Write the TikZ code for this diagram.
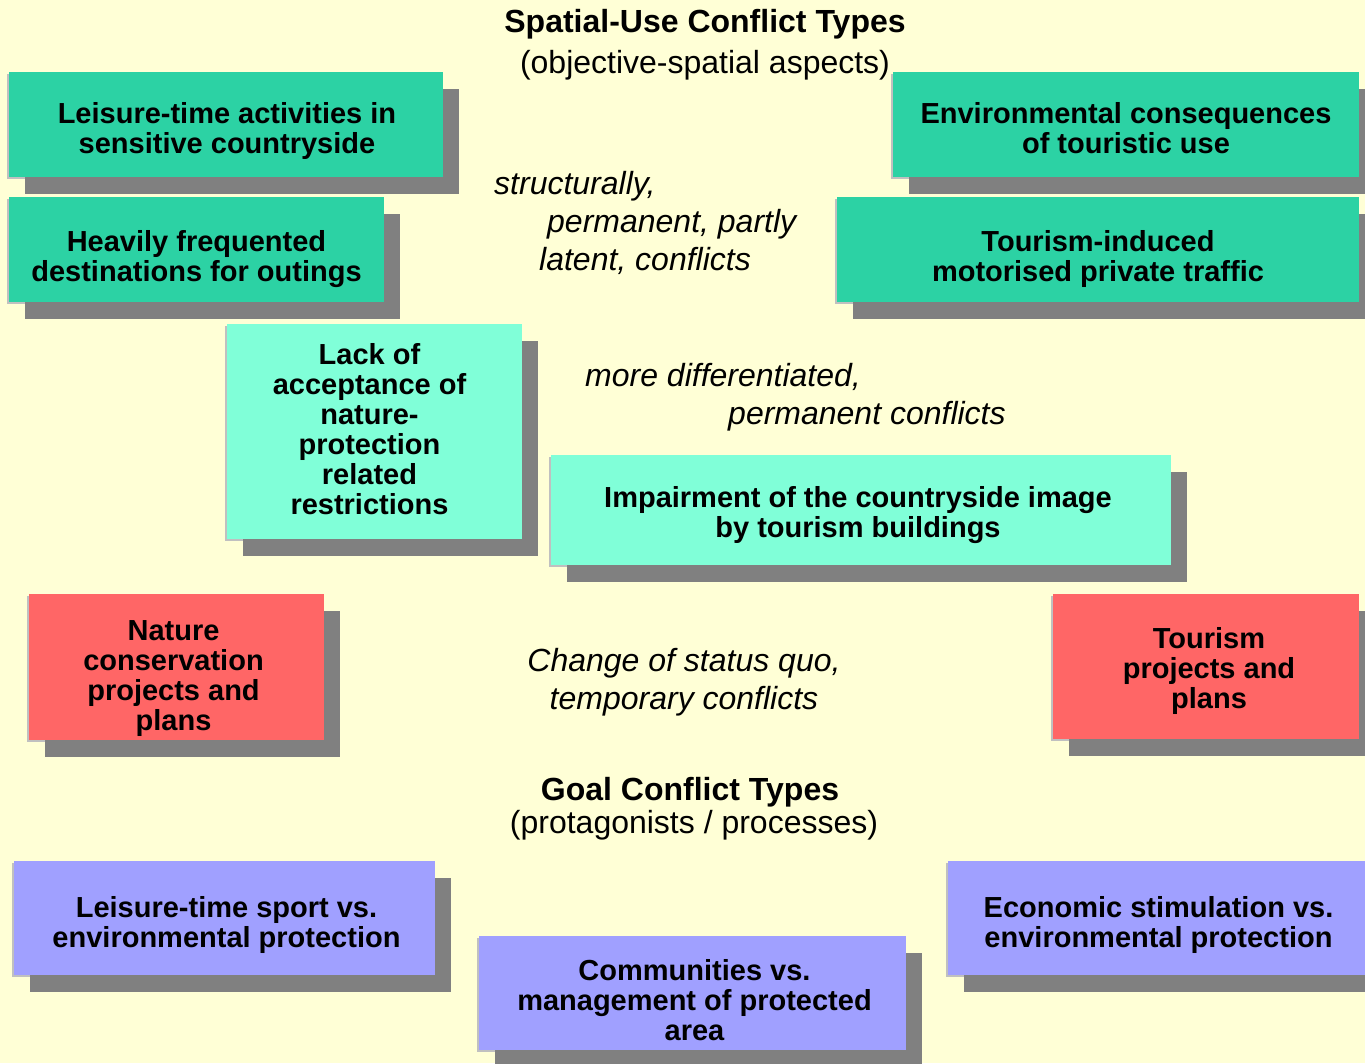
\documentclass[tikz,border=0pt]{standalone}
\usepackage{fontspec}
\setmainfont{Liberation Sans}
\usetikzlibrary{shadows}
\definecolor{bgyellow}{RGB}{255,255,214}
\definecolor{spatialgreen}{RGB}{44,210,164}
\definecolor{mintgreen}{RGB}{128,255,216}
\definecolor{projectred}{RGB}{255,102,102}
\definecolor{goalblue}{RGB}{160,160,255}
\definecolor{shadowgray}{RGB}{128,128,128}
\definecolor{edgegray}{RGB}{192,192,192}

\begin{document}
\begin{tikzpicture}[x=1pt, y=-1pt]
	\tikzset{
		conflict/.style={rectangle, inner sep=0pt,
			general shadow={shadow xshift=-2pt, shadow yshift=-2pt, fill=edgegray},
			general shadow={shadow xshift=16pt, shadow yshift=-17pt, fill=shadowgray}},
		boxtext/.style={inner sep=0pt, align=center, font=\bfseries\fontsize{29}{30}\selectfont},
		heading/.style={font=\bfseries\fontsize{32}{38}\selectfont, anchor=base},
		subheading/.style={font=\fontsize{32}{38}\selectfont, anchor=base},
		remark/.style={font=\itshape\fontsize{32}{38}\selectfont, inner sep=0pt},
	}

	\fill[bgyellow] (0,0) rectangle (1365,1063);
	\useasboundingbox (0,0) rectangle (1365,1063);

	% headings
	\node[heading] (spatial) at (705,32) {Spatial-Use Conflict Types};
	\node[subheading] (spatialsub) at (705,73) {(objective-spatial aspects)};
	\node[heading] (goal) at (690,800) {Goal Conflict Types};
	\node[subheading] (goalsub) at (694,833) {(protagonists / processes)};

	% spatial-use conflicts, structural
	\node[conflict, fill=spatialgreen, minimum width=434pt, minimum height=105pt] (lst) at (226,124.5) {};
	\node[boxtext] (lst-text) at ([shift={(1,6)}]lst.center) {Leisure-time activities in\\sensitive countryside};
	\node[conflict, fill=spatialgreen, minimum width=375pt, minimum height=105pt] (hfd) at (196.5,249.5) {};
	\node[boxtext] (hfd-text) at ([shift={(0,10)}]hfd.center) {Heavily frequented\\destinations for outings};
	\node[conflict, fill=spatialgreen, minimum width=466pt, minimum height=105pt] (env) at (1126,124.5) {};
	\node[boxtext] (env-text) at ([shift={(0,4)}]env.center) {Environmental consequences\\of touristic use};
	\node[conflict, fill=spatialgreen, minimum width=522pt, minimum height=105pt] (tmt) at (1098,249.5) {};
	\node[boxtext] (tmt-text) at ([shift={(0,9)}]tmt.center) {Tourism-induced\\motorised private traffic};

	\node[remark, anchor=base west] (rem1) at (494,194) {structurally,};
	\node[remark, anchor=base west] (rem2) at (547,232) {permanent, partly};
	\node[remark, anchor=base west] (rem3) at (539,270) {latent, conflicts};

	% spatial-use conflicts, differentiated
	\node[conflict, fill=mintgreen, minimum width=295pt, minimum height=215pt] (lack) at (374.5,431.5) {};
	\node[boxtext] (lack-text) at ([shift={(-5,-2)}]lack.center) {Lack of\\acceptance of\\nature-\\protection\\related\\restrictions};
	\node[conflict, fill=mintgreen, minimum width=620pt, minimum height=110pt] (imp) at (861,510) {};
	\node[boxtext] (imp-text) at ([shift={(-3,5)}]imp.center) {Impairment of the countryside image\\by tourism buildings};

	\node[remark, anchor=base west] (rem4) at (585,386) {more differentiated,};
	\node[remark, anchor=base west] (rem5) at (728,424) {permanent conflicts};

	% projects
	\node[conflict, fill=projectred, minimum width=295pt, minimum height=146pt] (ncp) at (176.5,667) {};
	\node[boxtext] (ncp-text) at ([shift={(-3,12)}]ncp.center) {Nature\\conservation\\projects and\\plans};
	\node[conflict, fill=projectred, minimum width=306pt, minimum height=145pt] (tpp) at (1206,666.5) {};
	\node[boxtext] (tpp-text) at ([shift={(3,4)}]tpp.center) {Tourism\\projects and\\plans};

	\node[remark, anchor=base] (rem6) at (684,671) {Change of status quo,};
	\node[remark, anchor=base] (rem7) at (684,709) {temporary conflicts};

	% goal conflicts
	\node[conflict, fill=goalblue, minimum width=421pt, minimum height=114pt] (lsp) at (224.5,918) {};
	\node[boxtext] (lsp-text) at ([shift={(2,7)}]lsp.center) {Leisure-time sport vs.\\environmental protection};
	\node[conflict, fill=goalblue, minimum width=427pt, minimum height=114pt] (cmp) at (692.5,993) {};
	\node[boxtext] (cmp-text) at ([shift={(2,7)}]cmp.center) {Communities vs.\\management of protected\\area};
	\node[conflict, fill=goalblue, minimum width=417pt, minimum height=114pt] (esp) at (1156.5,918) {};
	\node[boxtext] (esp-text) at ([shift={(2,7)}]esp.center) {Economic stimulation vs.\\environmental protection};
\end{tikzpicture}
\end{document}
